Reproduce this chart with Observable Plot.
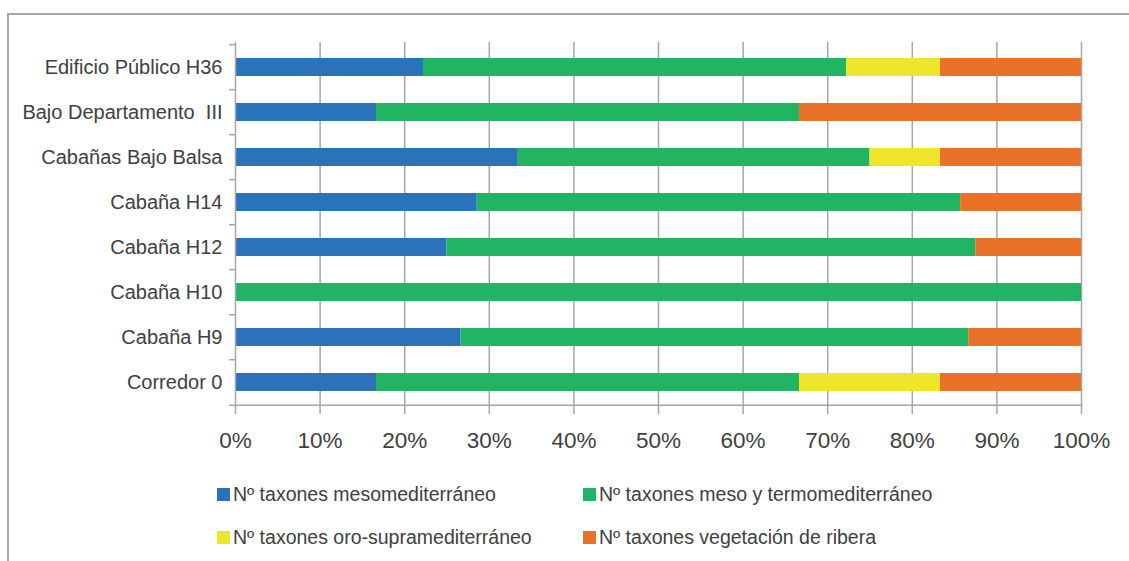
<!DOCTYPE html>
<html>
<head>
<meta charset="utf-8">
<script src="https://cdn.jsdelivr.net/npm/d3@7"></script>
<script src="https://cdn.jsdelivr.net/npm/@observablehq/plot@0.6"></script>
<style>
  html, body { margin: 0; padding: 0; background: #fff; }
  body { width: 1129px; height: 561px; position: relative; overflow: hidden; font-family: "Liberation Sans", Arial, sans-serif; }
  #frame { position: absolute; left: 7px; top: 13px; width: 1140px; height: 600px; border-left: 2px solid #a6a6a6; border-top: 2px solid #a6a6a6; box-sizing: border-box; }
  #chart { position: absolute; left: 0; top: 0; }
  .leg { position: absolute; font-size: 19.5px; color: #404040; white-space: nowrap; line-height: 1; }
  .sw { position: absolute; width: 13px; height: 13px; }
</style>
</head>
<body>
<div id="frame"></div>
<div id="chart"></div>
<div id="legend"></div>
<script>
const categories = ["Edificio Público H36", "Bajo Departamento  III", "Cabañas Bajo Balsa", "Cabaña H14", "Cabaña H12", "Cabaña H10", "Cabaña H9", "Corredor 0"];
const seriesNames = ["Nº taxones mesomediterráneo", "Nº taxones meso y termomediterráneo", "Nº taxones oro-supramediterráneo", "Nº taxones vegetación de ribera"];
const mesomediterraneo = [4, 1, 4, 2, 2, 0, 4, 1];
const mesoTermomediterraneo = [9, 3, 5, 4, 5, 1, 9, 3];
const oroSupramediterraneo = [2, 0, 1, 0, 0, 0, 0, 1];
const vegetacionRibera = [3, 2, 2, 1, 1, 0, 2, 1];
const colors = ["#2a72b9", "#21b462", "#efe52a", "#ea7228"];
const xTicks = [0, 0.1, 0.2, 0.3, 0.4, 0.5, 0.6, 0.7, 0.8, 0.9, 1];

const seriesValues = [mesomediterraneo, mesoTermomediterraneo, oroSupramediterraneo, vegetacionRibera];
const data = [];
categories.forEach((c, i) => {
  seriesNames.forEach((s, j) => data.push({category: c, series: s, value: seriesValues[j][i]}));
});

const W = 1129, H = 470;
const mTop = 42, mBottom = 63;
const step = (H - mTop - mBottom) / categories.length;

const plot = Plot.plot({
  width: W,
  height: H,
  marginLeft: 235,
  marginRight: 48,
  marginTop: mTop,
  marginBottom: mBottom,
  style: {fontFamily: "'Liberation Sans', Arial, sans-serif", color: "#404040", background: "transparent"},
  x: {domain: [0, 1], ticks: xTicks, tickFormat: d => Math.round(d * 100) + "%", label: null},
  y: {domain: categories, paddingInner: 0.6, paddingOuter: 0.3, label: null},
  color: {domain: seriesNames, range: colors},
  marks: [
    Plot.ruleX(xTicks.slice(1), {stroke: "#a6a6a6", strokeWidth: 1.5}),
    Plot.barX(data, Plot.stackX({x: "value", y: "category", fill: "series", offset: "normalize", order: seriesNames})),
    Plot.ruleX([0], {stroke: "#a6a6a6", strokeWidth: 1.5}),
    Plot.axisX({ticks: xTicks, tickFormat: d => Math.round(d * 100) + "%", tickSize: 7, tickPadding: 18, fontSize: 22.5, stroke: "#a6a6a6", strokeWidth: 1.5, fill: "#404040"}),
    Plot.axisY({tickSize: 0, tickPadding: 13, fontSize: 20, fill: "#404040"}),
    Plot.ruleY(categories, {y: d => d, x1: 0, x2: 0, insetLeft: -6, dy: -step / 2, stroke: "#a6a6a6", strokeWidth: 1.5}),
    Plot.ruleY(categories.slice(-1), {y: d => d, x1: 0, x2: 0, insetLeft: -6, dy: step / 2, stroke: "#a6a6a6", strokeWidth: 1.5}),
    Plot.ruleY(categories.slice(-1), {y: d => d, x1: 0, x2: 1, dy: step / 2, stroke: "#a6a6a6", strokeWidth: 1.5})
  ]
});
document.getElementById("chart").appendChild(plot);

// legend
const legPos = [[217, 488], [583, 488], [217, 531], [583, 531]];
const legend = document.getElementById("legend");
seriesNames.forEach((s, i) => {
  const [x, y] = legPos[i];
  const sw = document.createElement("div");
  sw.className = "sw";
  sw.style.left = x + "px";
  sw.style.top = y + "px";
  sw.style.background = colors[i];
  legend.appendChild(sw);
  const t = document.createElement("div");
  t.className = "leg";
  t.style.left = (x + 16) + "px";
  t.style.top = (y - 3) + "px";
  t.textContent = s;
  legend.appendChild(t);
});
</script>
</body>
</html>
